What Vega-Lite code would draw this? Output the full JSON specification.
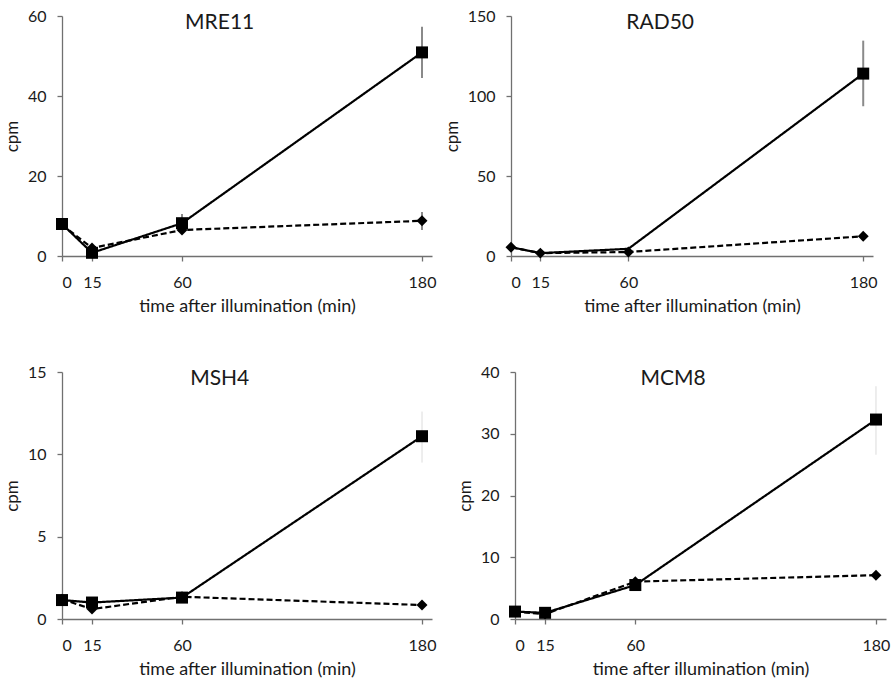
{
  "$schema": "https://vega.github.io/schema/vega-lite/v6.json",
  "padding": {"left": 3, "top": 8, "right": 3, "bottom": 3},
  "background": "white",
  "datasets": {
    "cpm": [
      {"gene": "MRE11", "series": "solid", "t": 0, "v": 8.0},
      {"gene": "MRE11", "series": "solid", "t": 15, "v": 0.8},
      {"gene": "MRE11", "series": "solid", "t": 60, "v": 8.2, "lo": 6.0, "hi": 10.5},
      {"gene": "MRE11", "series": "solid", "t": 180, "v": 50.9, "lo": 44.5, "hi": 57.3},
      {"gene": "MRE11", "series": "dashed", "t": 0, "v": 7.8},
      {"gene": "MRE11", "series": "dashed", "t": 15, "v": 2.0},
      {"gene": "MRE11", "series": "dashed", "t": 60, "v": 6.5},
      {"gene": "MRE11", "series": "dashed", "t": 180, "v": 8.8, "lo": 6.5, "hi": 11.0},
      {"gene": "RAD50", "series": "solid", "t": 0, "v": 5.5},
      {"gene": "RAD50", "series": "solid", "t": 15, "v": 1.8},
      {"gene": "RAD50", "series": "solid", "t": 60, "v": 4.5},
      {"gene": "RAD50", "series": "solid", "t": 180, "v": 114.0, "lo": 93.6, "hi": 134.6},
      {"gene": "RAD50", "series": "dashed", "t": 0, "v": 5.5},
      {"gene": "RAD50", "series": "dashed", "t": 15, "v": 1.8},
      {"gene": "RAD50", "series": "dashed", "t": 60, "v": 2.5},
      {"gene": "RAD50", "series": "dashed", "t": 180, "v": 12.3},
      {"gene": "MSH4", "series": "solid", "t": 0, "v": 1.15},
      {"gene": "MSH4", "series": "solid", "t": 15, "v": 1.0},
      {"gene": "MSH4", "series": "solid", "t": 60, "v": 1.3},
      {"gene": "MSH4", "series": "solid", "t": 180, "v": 11.1, "lo": 9.5, "hi": 12.6},
      {"gene": "MSH4", "series": "dashed", "t": 0, "v": 1.2},
      {"gene": "MSH4", "series": "dashed", "t": 15, "v": 0.6},
      {"gene": "MSH4", "series": "dashed", "t": 60, "v": 1.35},
      {"gene": "MSH4", "series": "dashed", "t": 180, "v": 0.85},
      {"gene": "MCM8", "series": "solid", "t": 0, "v": 1.2},
      {"gene": "MCM8", "series": "solid", "t": 15, "v": 1.0},
      {"gene": "MCM8", "series": "solid", "t": 60, "v": 5.5},
      {"gene": "MCM8", "series": "solid", "t": 180, "v": 32.3, "lo": 26.6, "hi": 37.7},
      {"gene": "MCM8", "series": "dashed", "t": 0, "v": 1.2},
      {"gene": "MCM8", "series": "dashed", "t": 15, "v": 0.8},
      {"gene": "MCM8", "series": "dashed", "t": 60, "v": 6.05},
      {"gene": "MCM8", "series": "dashed", "t": 180, "v": 7.1}
    ]
  },
  "data": {"name": "cpm"},
  "vconcat": [
    {
      "spacing": 7,
      "hconcat": [
        {
          "width": 370, "height": 240,
          "title": {"text": "MRE11"},
          "transform": [{"filter": "datum.gene === 'MRE11'"}],
          "encoding": {
            "x": {"field": "t", "type": "quantitative", "scale": {"domain": [0, 185], "nice": false}, "axis": {"values": [0, 15, 60, 180], "title": "time after illumination (min)"}},
            "y": {"field": "v", "type": "quantitative", "scale": {"domain": [0, 60], "nice": false}, "axis": {"values": [0, 20, 40, 60], "title": "cpm"}}
          },
          "layer": [
            {"transform": [{"filter": "isValid(datum.lo)"}], "mark": {"type": "rule", "color": "#8a8a8a", "strokeWidth": 2},
             "encoding": {"y": {"field": "lo", "type": "quantitative", "scale": {"domain": [0, 60], "nice": false}, "title": "cpm"}, "y2": {"field": "hi"}}},
            {"mark": {"type": "line", "color": "black", "strokeWidth": 2.2},
             "encoding": {"strokeDash": {"field": "series", "type": "nominal", "scale": {"domain": ["solid", "dashed"], "range": [[1, 0], [6, 3]]}, "legend": null}}},
            {"transform": [{"filter": "datum.series === 'dashed'"}], "mark": {"type": "point", "shape": "diamond", "filled": true, "color": "black", "size": 120, "opacity": 1}},
            {"transform": [{"filter": "datum.series === 'solid'"}], "mark": {"type": "point", "shape": "square", "filled": true, "color": "black", "size": 144, "opacity": 1}}
          ]
        },
        {
          "width": 362, "height": 240,
          "title": {"text": "RAD50"},
          "transform": [{"filter": "datum.gene === 'RAD50'"}],
          "encoding": {
            "x": {"field": "t", "type": "quantitative", "scale": {"domain": [0, 185], "nice": false}, "axis": {"values": [0, 15, 60, 180], "title": "time after illumination (min)"}},
            "y": {"field": "v", "type": "quantitative", "scale": {"domain": [0, 150], "nice": false}, "axis": {"values": [0, 50, 100, 150], "title": "cpm"}}
          },
          "layer": [
            {"transform": [{"filter": "isValid(datum.lo)"}], "mark": {"type": "rule", "color": "#8a8a8a", "strokeWidth": 2},
             "encoding": {"y": {"field": "lo", "type": "quantitative", "scale": {"domain": [0, 150], "nice": false}, "title": "cpm"}, "y2": {"field": "hi"}}},
            {"mark": {"type": "line", "color": "black", "strokeWidth": 2.2},
             "encoding": {"strokeDash": {"field": "series", "type": "nominal", "scale": {"domain": ["solid", "dashed"], "range": [[1, 0], [6, 3]]}, "legend": null}}},
            {"transform": [{"filter": "datum.series === 'dashed'"}], "mark": {"type": "point", "shape": "diamond", "filled": true, "color": "black", "size": 120, "opacity": 1}},
            {"transform": [{"filter": "datum.series === 'solid' && datum.t === 180"}], "mark": {"type": "point", "shape": "square", "filled": true, "color": "black", "size": 144, "opacity": 1}}
          ]
        }
      ]
    },
    {
      "spacing": 20,
      "hconcat": [
        {
          "width": 370, "height": 247,
          "title": {"text": "MSH4"},
          "transform": [{"filter": "datum.gene === 'MSH4'"}],
          "encoding": {
            "x": {"field": "t", "type": "quantitative", "scale": {"domain": [0, 185], "nice": false}, "axis": {"values": [0, 15, 60, 180], "title": "time after illumination (min)"}},
            "y": {"field": "v", "type": "quantitative", "scale": {"domain": [0, 15], "nice": false}, "axis": {"values": [0, 5, 10, 15], "title": "cpm"}}
          },
          "layer": [
            {"transform": [{"filter": "isValid(datum.lo)"}], "mark": {"type": "rule", "color": "#dcdcdc", "strokeWidth": 1},
             "encoding": {"y": {"field": "lo", "type": "quantitative", "scale": {"domain": [0, 15], "nice": false}, "title": "cpm"}, "y2": {"field": "hi"}}},
            {"mark": {"type": "line", "color": "black", "strokeWidth": 2.2},
             "encoding": {"strokeDash": {"field": "series", "type": "nominal", "scale": {"domain": ["solid", "dashed"], "range": [[1, 0], [6, 3]]}, "legend": null}}},
            {"transform": [{"filter": "datum.series === 'dashed'"}], "mark": {"type": "point", "shape": "diamond", "filled": true, "color": "black", "size": 120, "opacity": 1}},
            {"transform": [{"filter": "datum.series === 'solid'"}], "mark": {"type": "point", "shape": "square", "filled": true, "color": "black", "size": 144, "opacity": 1}}
          ]
        },
        {
          "width": 371, "height": 247,
          "title": {"text": "MCM8"},
          "transform": [{"filter": "datum.gene === 'MCM8'"}],
          "encoding": {
            "x": {"field": "t", "type": "quantitative", "scale": {"domain": [0, 185], "nice": false}, "axis": {"values": [0, 15, 60, 180], "title": "time after illumination (min)"}},
            "y": {"field": "v", "type": "quantitative", "scale": {"domain": [0, 40], "nice": false}, "axis": {"values": [0, 10, 20, 30, 40], "title": "cpm"}}
          },
          "layer": [
            {"transform": [{"filter": "isValid(datum.lo)"}], "mark": {"type": "rule", "color": "#dcdcdc", "strokeWidth": 1},
             "encoding": {"y": {"field": "lo", "type": "quantitative", "scale": {"domain": [0, 40], "nice": false}, "title": "cpm"}, "y2": {"field": "hi"}}},
            {"mark": {"type": "line", "color": "black", "strokeWidth": 2.2},
             "encoding": {"strokeDash": {"field": "series", "type": "nominal", "scale": {"domain": ["solid", "dashed"], "range": [[1, 0], [6, 3]]}, "legend": null}}},
            {"transform": [{"filter": "datum.series === 'dashed'"}], "mark": {"type": "point", "shape": "diamond", "filled": true, "color": "black", "size": 120, "opacity": 1}},
            {"transform": [{"filter": "datum.series === 'solid'"}], "mark": {"type": "point", "shape": "square", "filled": true, "color": "black", "size": 144, "opacity": 1}}
          ]
        }
      ]
    }
  ],
  "spacing": 49,
  "config": {
    "font": "Lato",
    "view": {"stroke": null},
    "title": {"fontSize": 21, "fontWeight": "normal", "anchor": "middle", "frame": "bounds", "offset": -25, "color": "#1a1a1a"},
    "axis": {
      "grid": false,
      "domainColor": "#707070", "domainWidth": 1.3,
      "tickColor": "#707070", "tickWidth": 1.3, "tickSize": 5,
      "labelFontSize": 16, "labelColor": "#1a1a1a", "labelFont": "Lato",
      "titleFontSize": 17, "titleFontWeight": "normal", "titleColor": "#1a1a1a", "titleFont": "Lato"
    },
    "axisX": {"labelPadding": 13, "titlePadding": 7, "titleFontSize": 18},
    "axisY": {"labelPadding": 11, "titlePadding": 6}
  }
}
